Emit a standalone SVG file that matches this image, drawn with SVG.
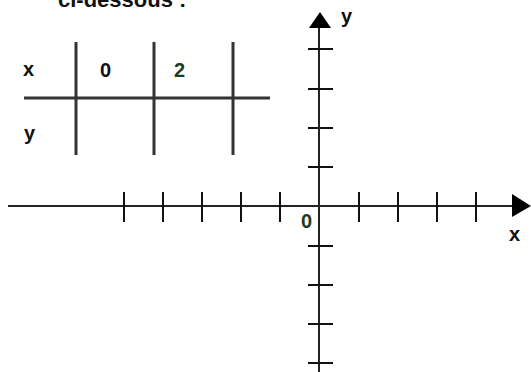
<svg xmlns="http://www.w3.org/2000/svg" width="531" height="372" viewBox="0 0 531 372">
<style>
.ln{stroke:#222;stroke-width:2;fill:none}
.tb{stroke:#333;stroke-width:3;fill:none}
.tk{stroke:#111;stroke-width:2}
.t{font-family:"Liberation Sans",Arial,sans-serif;font-weight:bold;font-size:20px;fill:#111}
.g{fill:#1e3a22}
</style>
<rect width="531" height="372" fill="#fff"/>
<text class="t" x="58" y="7" style="font-size:22px">ci-dessous :</text>
<g id="table">
<line class="tb" x1="24" y1="98" x2="270" y2="98"/>
<line class="tb" x1="76" y1="42" x2="76" y2="155"/>
<line class="tb" x1="154" y1="42" x2="154" y2="155"/>
<line class="tb" x1="233" y1="42" x2="233" y2="155"/>
<text class="t" x="23" y="76">x</text>
<text class="t" x="24" y="140">y</text>
<text class="t" x="100" y="77">0</text>
<text class="t g" x="174" y="77">2</text>
</g>
<g id="axes">
<line class="ln" x1="8" y1="206" x2="514" y2="206"/>
<polygon points="512,194 531,206 512,217" fill="#000"/>
<line class="ln" x1="319" y1="372" x2="319" y2="26"/>
<polygon points="309,28 320,12 331,28" fill="#000"/>
<g class="tk">
<line x1="124" y1="192" x2="124" y2="222"/>
<line x1="163" y1="192" x2="163" y2="222"/>
<line x1="202" y1="192" x2="202" y2="222"/>
<line x1="241" y1="192" x2="241" y2="222"/>
<line x1="280" y1="192" x2="280" y2="222"/>
<line x1="359" y1="192" x2="359" y2="222"/>
<line x1="398" y1="192" x2="398" y2="222"/>
<line x1="437" y1="192" x2="437" y2="222"/>
<line x1="476" y1="192" x2="476" y2="222"/>
<line x1="308" y1="49" x2="333" y2="49"/>
<line x1="308" y1="89" x2="333" y2="89"/>
<line x1="308" y1="128" x2="333" y2="128"/>
<line x1="308" y1="167" x2="333" y2="167"/>
<line x1="308" y1="246" x2="333" y2="246"/>
<line x1="308" y1="285" x2="333" y2="285"/>
<line x1="308" y1="324" x2="333" y2="324"/>
<line x1="308" y1="363" x2="333" y2="363"/>
</g>
<text class="t" x="341" y="23">y</text>
<text class="t" x="509" y="241">x</text>
<text class="t g" x="301" y="228">0</text>
</g>
</svg>
